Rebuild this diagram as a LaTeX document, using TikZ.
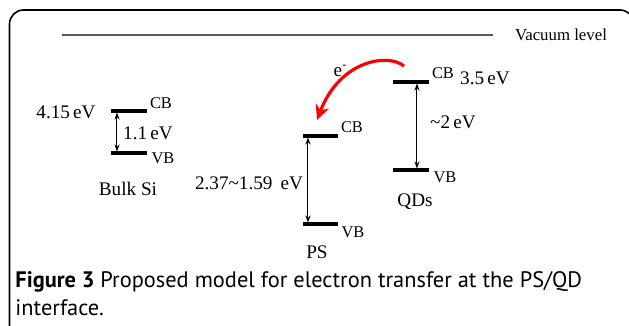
\documentclass[tikz,border=0pt]{standalone}
\usepackage{fontspec}
\setmainfont{Liberation Serif}
\newfontfamily\capfont{PT Sans}
\usetikzlibrary{arrows.meta}
\begin{document}
\begin{tikzpicture}[x=0.5pt,y=-0.5pt,
  level/.style={line width=1.6pt},
  gap/.style={line width=0.5pt,{Stealth[length=3.5pt,width=2.6pt]}-{Stealth[length=3.5pt,width=2.6pt]}},
  lbl/.style={inner sep=0pt,font=\fontsize{9.6}{11}\selectfont},
  band/.style={inner sep=0pt,font=\fontsize{8.2}{10}\selectfont},
  captext/.style={inner sep=0pt,anchor=west,font=\capfont\fontsize{11.2}{13}\selectfont}]
\useasboundingbox (0,0) rectangle (629,326);
\begin{scope}
\clip (0,0) rectangle (629,326);
\draw[line width=0.8pt,rounded corners=7pt] (9.5,360) -- (9.5,10) -- (634,10) -- (634,360);
\end{scope}
% vacuum level
\coordinate (vacL) at (62,35);
\coordinate (vacR) at (493,35);
\draw[line width=0.7pt,black!65] (vacL) -- (vacR);
\node[lbl,font=\fontsize{8.4}{10}\selectfont] (vac) at (561,35) {Vacuum level};
% Bulk Si
\coordinate (siCL) at (111,111); \coordinate (siCR) at (147,111);
\coordinate (siVL) at (111,153); \coordinate (siVR) at (147,153);
\draw[level] (siCL) -- (siCR);
\draw[level] (siVL) -- (siVR);
\coordinate (siA) at (117,112.5); \coordinate (siB) at (117,151.5);
\draw[gap] (siA) -- (siB);
\node[band] (siCB) at (161,103) {CB};
\node[band] (siVB) at (163,158) {VB};
\node[lbl] (siGap) at (148,133) {1.1\,eV};
\node[lbl] (siE) at (66,112) {4.15\,eV};
\node[lbl] (siName) at (128,189) {Bulk Si};
% PS
\coordinate (psCL) at (303,136); \coordinate (psCR) at (338,136);
\coordinate (psVL) at (303,224); \coordinate (psVR) at (338,224);
\draw[level] (psCL) -- (psCR);
\draw[level] (psVL) -- (psVR);
\coordinate (psA) at (308,137.5); \coordinate (psB) at (308,222.5);
\draw[gap] (psA) -- (psB);
\node[band] (psCB) at (352,127) {CB};
\node[band] (psVB) at (353,232) {VB};
\node[lbl] (psGap) at (249,183) {2.37\textasciitilde1.59~\,eV};
\node[lbl] (psName) at (317,252) {PS};
% QDs
\coordinate (qdCL) at (393,82); \coordinate (qdCR) at (429,82);
\coordinate (qdVL) at (393,170); \coordinate (qdVR) at (429,170);
\draw[level] (qdCL) -- (qdCR);
\draw[level] (qdVL) -- (qdVR);
\coordinate (qdA) at (417,83.5); \coordinate (qdB) at (417,168.5);
\draw[gap] (qdA) -- (qdB);
\node[band] (qdCB) at (443,73) {CB};
\node[band] (qdVB) at (445,177) {VB};
\node[lbl] (qdE) at (485,78) {3.5\,eV};
\node[lbl] (qdGap) at (453,122) {\textasciitilde2\,eV};
\node[lbl] (qdName) at (415,202) {QDs};
% electron transfer
\coordinate (eS) at (404,66);
\coordinate (eT) at (317,120);
\draw[red,line width=1.6pt,-{Stealth[length=7.5pt,width=7pt]}] (eS) .. controls (388,53) and (340,60) .. (eT);
\node[lbl] (eLbl) at (340,71) {e\raisebox{0.9ex}{\fontsize{6}{7}\selectfont -}};
% caption
\node[captext] (cap1) at (15,282) {\textbf{Figure 3} Proposed model for electron transfer at the PS/QD};
\node[captext] (cap2) at (15,308) {interface.};
\end{tikzpicture}
\end{document}
